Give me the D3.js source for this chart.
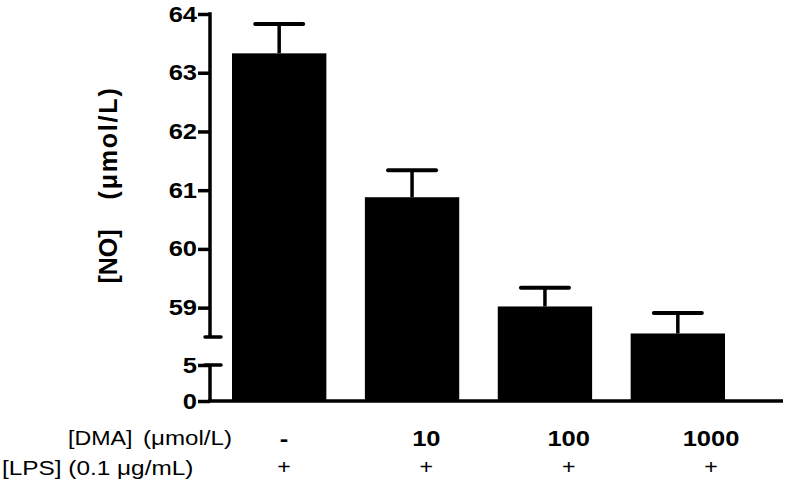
<!DOCTYPE html>
<html>
<head>
  <meta charset="utf-8">
  <title>NO vs DMA</title>
  <style>
    body { margin: 0; background: #fff; }
    text { font-family: Arial, "Liberation Sans", sans-serif; }
  </style>
</head>
<body>
  <div id="chart"></div>
  <script src="https://d3js.org/d3.v7.min.js"></script>
  <script>
    // data
    var groups = ["ctrl", "10", "100", "1000"];
    var dmaLabels = ["-", "10", "100", "1000"];
    var lpsLabels = ["+", "+", "+", "+"];
    var means = [63.33, 60.88, 59.02, 58.56];
    var errs = [0.50, 0.46, 0.32, 0.35];
    var upperTicks = [59, 60, 61, 62, 63, 64];
    var lowerTicks = [0, 5];

    var W = 788, H = 485;
    var axisX = 210, baseY = 401;
    // the original figure is stretched sideways, so horizontal text is widened too
    var stretch = 1.16;

    var svg = d3.select("#chart").append("svg")
        .attr("width", W)
        .attr("height", H);

    // broken y axis: two segments
    var yTop = d3.scaleLinear().domain([58.5, 64]).range([337, 14]);
    var yBot = d3.scaleLinear().domain([0, 5]).range([baseY, 365]);

    var x = d3.scaleBand()
        .domain(groups)
        .range([232, 725])
        .paddingInner(0.29)
        .paddingOuter(0);

    // bars run down through the break to the baseline
    svg.selectAll(".bar")
        .data(means)
        .enter()
        .append("rect")
        .attr("x", function(d, i){ return x(groups[i]); })
        .attr("y", function(d){ return yTop(d); })
        .attr("width", x.bandwidth())
        .attr("height", function(d){ return baseY - yTop(d); })
        .attr("fill", "#000");

    // error bars (upper only)
    var eb = svg.selectAll(".err")
        .data(means)
        .enter()
        .append("g");
    eb.append("line")
        .attr("x1", function(d, i){ return x(groups[i]) + x.bandwidth()/2; })
        .attr("x2", function(d, i){ return x(groups[i]) + x.bandwidth()/2; })
        .attr("y1", function(d){ return yTop(d); })
        .attr("y2", function(d, i){ return yTop(d + errs[i]); })
        .attr("stroke", "#000")
        .attr("stroke-width", 3.5);
    eb.append("line")
        .attr("x1", function(d, i){ return x(groups[i]) + x.bandwidth()/2 - 24; })
        .attr("x2", function(d, i){ return x(groups[i]) + x.bandwidth()/2 + 24; })
        .attr("y1", function(d, i){ return yTop(d + errs[i]); })
        .attr("y2", function(d, i){ return yTop(d + errs[i]); })
        .attr("stroke", "#000")
        .attr("stroke-width", 4)
        .attr("stroke-linecap", "round");

    // y axes
    var gTop = svg.append("g")
        .attr("transform", "translate(" + axisX + ",0)")
        .call(d3.axisLeft(yTop).tickValues(upperTicks).tickFormat(d3.format("d"))
          .tickSize(12).tickPadding(2).tickSizeOuter(0));
    var gBot = svg.append("g")
        .attr("transform", "translate(" + axisX + ",0)")
        .call(d3.axisLeft(yBot).tickValues(lowerTicks).tickFormat(d3.format("d"))
          .tickSize(12).tickPadding(2).tickSizeOuter(0));

    [gTop, gBot].forEach(function(g){
      g.select(".domain").remove();
      g.selectAll(".tick line").attr("stroke", "#000").attr("stroke-width", 3.5);
      g.selectAll(".tick text")
          .attr("fill", "#000")
          .attr("font-size", 22)
          .attr("font-weight", "bold")
          .attr("font-family", "Arial, 'Liberation Sans', sans-serif")
          .attr("x", -13 / stretch)
          .attr("transform", "scale(" + stretch + ",1)");
    });

    // axis segments with caps at the break
    svg.append("line")
        .attr("x1", axisX).attr("x2", axisX)
        .attr("y1", yTop(64) - 1.75).attr("y2", yTop(58.5))
        .attr("stroke", "#000").attr("stroke-width", 3.5);
    svg.append("line")
        .attr("x1", axisX - 5).attr("x2", axisX + 11)
        .attr("y1", yTop(58.5)).attr("y2", yTop(58.5))
        .attr("stroke", "#000").attr("stroke-width", 3.5)
        .attr("stroke-linecap", "round");
    svg.append("line")
        .attr("x1", axisX).attr("x2", axisX)
        .attr("y1", yBot(5)).attr("y2", baseY)
        .attr("stroke", "#000").attr("stroke-width", 3.5);
    svg.append("line")
        .attr("x1", axisX - 5).attr("x2", axisX + 11)
        .attr("y1", yBot(5)).attr("y2", yBot(5))
        .attr("stroke", "#000").attr("stroke-width", 3.5)
        .attr("stroke-linecap", "round");

    // x axis line
    svg.append("line")
        .attr("x1", axisX - 1.75).attr("x2", 783)
        .attr("y1", baseY).attr("y2", baseY)
        .attr("stroke", "#000").attr("stroke-width", 3.5);

    // y axis title, two pieces
    svg.append("text")
        .attr("transform", "translate(117,256.5) rotate(-90)")
        .attr("text-anchor", "middle")
        .attr("font-size", 25)
        .attr("font-weight", "bold")
        .attr("fill", "#000")
        .text("[NO]");
    svg.append("text")
        .attr("transform", "translate(117,143) rotate(-90)")
        .attr("text-anchor", "middle")
        .attr("font-size", 25)
        .attr("font-weight", "bold")
        .attr("letter-spacing", 1.8)
        .attr("fill", "#000")
        .text("(\u03bcmol/L)");

    // treatment rows under the axis
    var col = d3.scalePoint().domain(groups).range([284, 711]);

    function rowText(px, py, str, size, weight, anchor) {
      return svg.append("text")
          .attr("transform", "translate(" + px + "," + py + ") scale(" + stretch + ",1)")
          .attr("text-anchor", anchor || "start")
          .attr("font-size", size)
          .attr("font-weight", weight || "normal")
          .attr("fill", "#000")
          .text(str);
    }

    rowText(68, 445, "[DMA]", 20);
    rowText(143, 445, "(\u03bcmol/L)", 20.8);
    rowText(2, 475, "[LPS] (0.1 \u03bcg/mL)", 21);

    dmaLabels.forEach(function(d, i){
      rowText(col(groups[i]), 446, d, 22, "bold", "middle");
    });
    lpsLabels.forEach(function(d, i){
      rowText(col(groups[i]), 474, d, 20, "normal", "middle");
    });
  </script>
</body>
</html>
